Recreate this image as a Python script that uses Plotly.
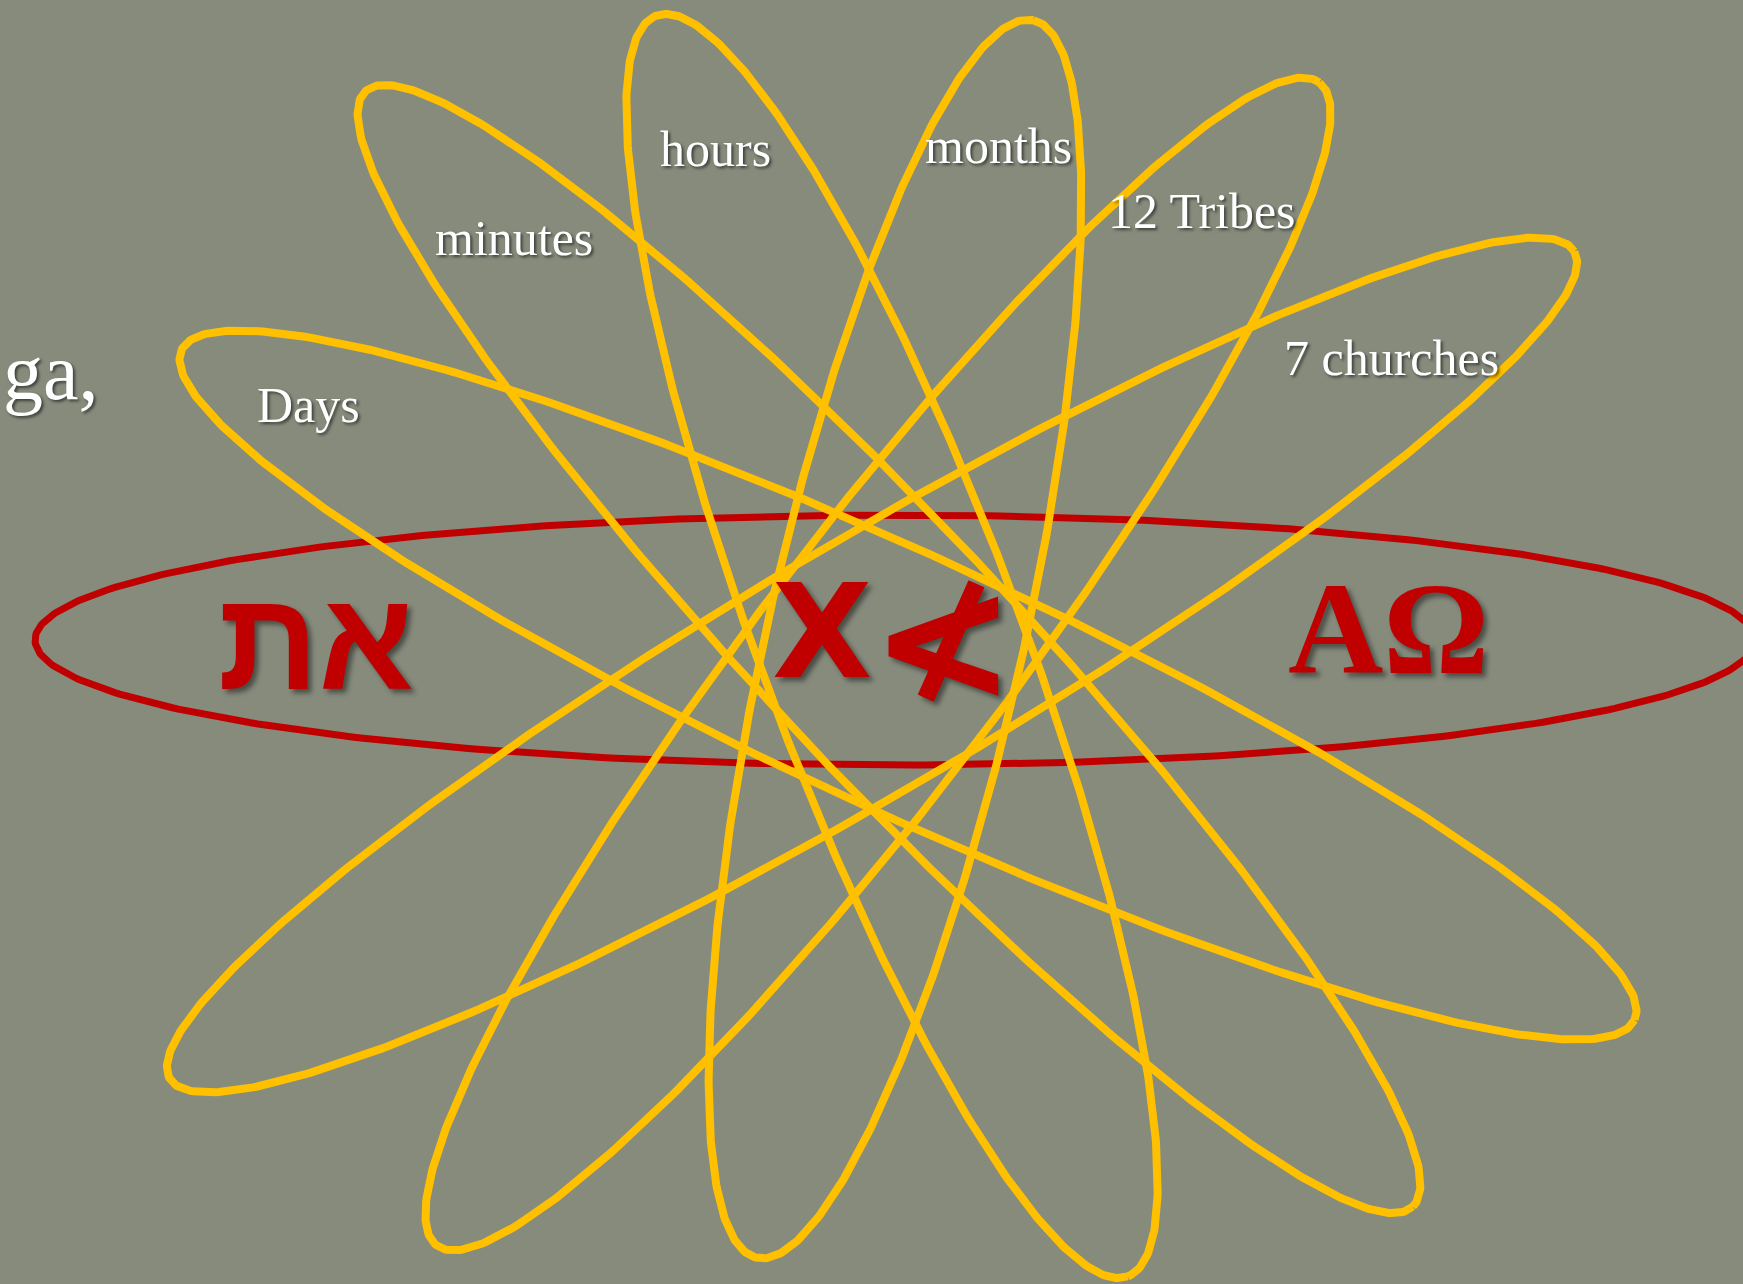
import numpy as np
import plotly.graph_objects as go

W, H = 1743, 1284

# ---- diagram data (pixel space of the slide, y downward) ----
ring_labels = ["Days", "minutes", "hours", "months", "12 Tribes", "7 churches"]
ring_cx = [908, 889, 892, 895, 878, 872]
ring_cy = [685, 649, 646, 639, 664, 665]
ring_a = [800, 765, 673, 634, 730, 815]
ring_b = [128, 124, 131, 128, 126, 125]
ring_angle = [24.75, 46.8, 69.5, -77.4, -52.8, -30.5]

outer_cx, outer_cy, outer_a, outer_b, outer_angle = 895, 640, 860, 125, 0.0

label_x = [308, 514, 715, 998, 1202, 1391]
label_y = [405, 238, 149, 146, 211, 358]

hebrew_text = "את"
paleo_tav = "X"
paleo_aleph = "≮"
greek_text = "ΑΩ"
title_fragment = "ga,"

YELLOW = "#FFC000"
RED = "#C00000"
BG = "#868B7C"


def ellipse(cx, cy, a, b, ang_deg, n=500):
    t = np.linspace(0, 2 * np.pi, n)
    th = np.radians(ang_deg)
    x = cx + a * np.cos(th) * np.cos(t) - b * np.sin(th) * np.sin(t)
    y = cy + a * np.sin(th) * np.cos(t) + b * np.cos(th) * np.sin(t)
    return x, y


fig = go.Figure()

ox, oy = ellipse(outer_cx, outer_cy, outer_a, outer_b, outer_angle)
fig.add_trace(go.Scatter(x=ox, y=oy, mode="lines",
                         line=dict(color=RED, width=7), hoverinfo="skip"))

for i, name in enumerate(ring_labels):
    x, y = ellipse(ring_cx[i], ring_cy[i], ring_a[i], ring_b[i], ring_angle[i])
    fig.add_trace(go.Scatter(x=x, y=y, mode="lines", name=name,
                             line=dict(color=YELLOW, width=8), hoverinfo="skip"))

shadow_small = "2px 2px 3px rgba(0,0,0,0.55)"
shadow_big = "4px 4px 5px rgba(0,0,0,0.45)"

annotations = []
for i, name in enumerate(ring_labels):
    annotations.append(dict(
        x=label_x[i], y=label_y[i], xref="x", yref="y", text=name,
        showarrow=False, xanchor="center", yanchor="middle",
        font=dict(family="Liberation Serif", size=50, color="white",
                  shadow=shadow_small)))

annotations.append(dict(
    x=1, y=372, xref="x", yref="y", text=title_fragment, showarrow=False,
    xanchor="left", yanchor="middle",
    font=dict(family="Liberation Serif", size=80, color="white",
              shadow=shadow_small)))

annotations.append(dict(
    x=316, y=640, xref="x", yref="y", text="<b>" + hebrew_text + "</b>",
    showarrow=False, xanchor="center", yanchor="middle",
    font=dict(family="Liberation Sans", size=140, color=RED, shadow=shadow_big)))

annotations.append(dict(
    x=822, y=632, xref="x", yref="y", text="<b>" + paleo_tav + "</b>",
    showarrow=False, xanchor="center", yanchor="middle",
    font=dict(family="DejaVu Sans", size=130, color=RED, shadow=shadow_big)))

annotations.append(dict(
    x=943, y=640, xref="x", yref="y", text="<b>" + paleo_aleph + "</b>",
    showarrow=False, xanchor="center", yanchor="middle",
    font=dict(family="DejaVu Sans", size=175, color=RED, shadow=shadow_big)))

annotations.append(dict(
    x=1388, y=628, xref="x", yref="y", text="<b>" + greek_text + "</b>",
    showarrow=False, xanchor="center", yanchor="middle",
    font=dict(family="Liberation Serif", size=132, color=RED, shadow=shadow_big)))

fig.update_layout(
    width=W, height=H,
    margin=dict(l=0, r=0, t=0, b=0),
    paper_bgcolor=BG, plot_bgcolor=BG,
    showlegend=False,
    annotations=annotations,
    xaxis=dict(range=[0, W], visible=False, fixedrange=True),
    yaxis=dict(range=[H, 0], visible=False, fixedrange=True),
)

fig.write_html(
    "out.html",
    config={"displayModeBar": False},
    post_script="document.body.style.margin='0px';document.body.style.overflow='hidden';",
)
